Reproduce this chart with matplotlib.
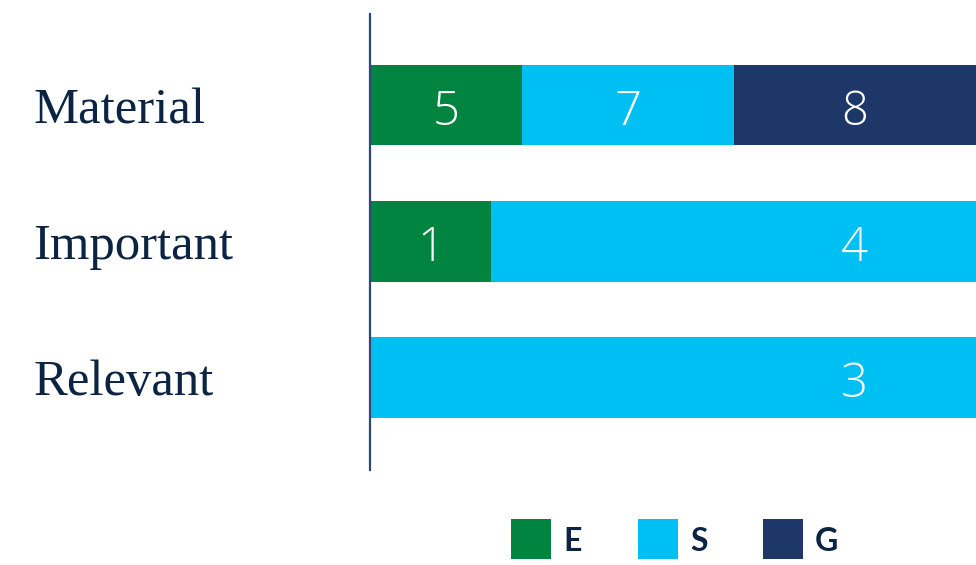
import matplotlib.pyplot as plt
from matplotlib.patches import Rectangle
from matplotlib.transforms import blended_transform_factory
import numpy as np

# ESG topic counts per materiality level
levels = ['Material', 'Important', 'Relevant']
pillars = ['E', 'S', 'G']
e_counts = [5, 1, 0]
s_counts = [7, 4, 3]
g_counts = [8, 0, 0]

GREEN = '#00843f'
CYAN = '#00c0f3'
NAVY = '#1c3768'
TEXT = '#0c2443'
AXIS = '#2b4a7b'

colors = [GREEN, CYAN, NAVY]
series = np.array([e_counts, s_counts, g_counts], dtype=float)
shares = series / series.sum(axis=0)

W, H = 976, 565
fig = plt.figure(figsize=(W / 100, H / 100), dpi=100)
ax = fig.add_axes([0.3791, 0.168, 0.6209, 0.807])

y = np.arange(len(levels))
left = np.zeros(len(levels))
for i, pillar in enumerate(pillars):
    ax.barh(y, shares[i], left=left, height=0.59, color=colors[i],
            edgecolor='none', label=pillar)
    for row in range(len(levels)):
        if series[i, row] == 0:
            continue
        last = series[i + 1:, row].sum() == 0
        # the right-most value of each row sits in a common column
        xpos = 0.8 if last else left[row] + shares[i, row] / 2
        ax.text(xpos, y[row] + 0.01, f'{int(series[i, row])}', ha='center',
                va='center_baseline', color='white', fontsize=34,
                family='Open Sans', fontweight='light')
    left += shares[i]

ax.set_xlim(0, 1)
ax.set_ylim(2.68, -0.67)
for side in ['top', 'right', 'bottom']:
    ax.spines[side].set_visible(False)
ax.spines['left'].set_color(AXIS)
ax.spines['left'].set_linewidth(1.6)
ax.spines['left'].set_zorder(5)
ax.set_xticks([])
ax.set_yticks([])

trans = blended_transform_factory(fig.transFigure, ax.transData)
for row, name in enumerate(levels):
    ax.text(0.034, y[row], name, transform=trans, ha='left',
            va='center_baseline', fontsize=36.5, family='Liberation Serif',
            color=TEXT)

# legend: coloured squares with bold letters beneath the bars
key_x = [511, 638, 763]
for x0, c, name in zip(key_x, colors, pillars):
    fig.add_artist(Rectangle((x0 / W, 1 - 559 / H), 40 / W, 40 / H,
                             transform=fig.transFigure, facecolor=c,
                             edgecolor='none'))
    fig.text((x0 + 52) / W, 1 - 541.5 / H, name, ha='left', va='center',
             fontsize=23, family='Lato', fontweight='bold', color=TEXT)

fig.savefig('out.png', dpi=100)
